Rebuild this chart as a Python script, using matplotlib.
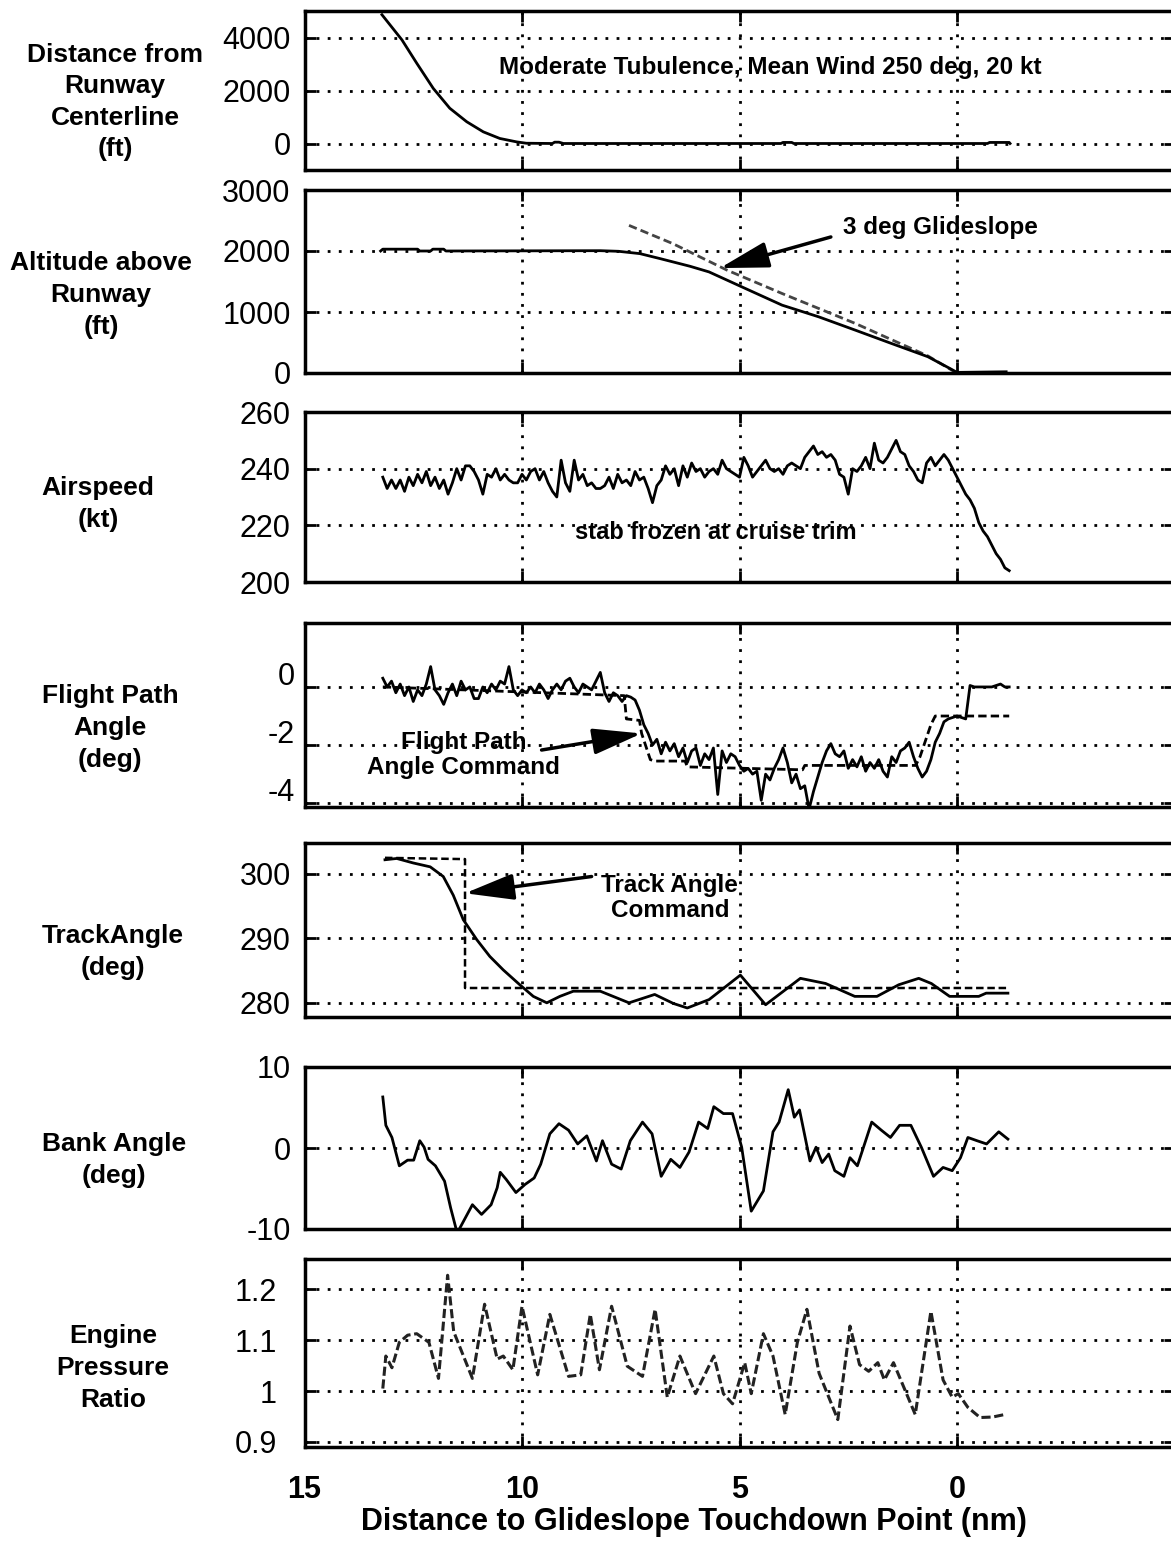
import matplotlib
matplotlib.use("Agg")
import matplotlib.pyplot as plt
import numpy as np
from matplotlib.transforms import ScaledTranslation

plt.rcParams['font.family'] = ['Liberation Sans', 'DejaVu Sans']

# ---- data (distance to glideslope touchdown point, nm) ----
dist_nm = [13.22, 12.76, 12.42, 12.04, 11.66, 11.27, 10.89, 10.51, 10.12, 9.9,
           9.3, 9.25, 9.15, 9.05, 4.05, 4.0, 3.8, 3.75, -0.7, -0.75, -1.2, -1.22]
dist_ft = [4860, 3910, 3030, 2080, 1330, 820, 440, 190, 60, 10,
           0, 50, 50, 0, 0, 40, 40, 0, 0, 40, 40, 0]

alt_nm = [13.25, 13.2, 12.9, 12.4, 12.35, 12.1, 12.05, 11.8, 11.75, 8.2, 7.78, 7.29,
          6.83, 6.14, 5.70, 5.03, 4.02, 3.18, 2.34, 1.51, 0.67, 0.17, 0.0, -1.13]
alt_ft = [2000, 2030, 2030, 2030, 2000, 2000, 2030, 2030, 2000, 2005, 1995, 1957,
          1876, 1750, 1657, 1439, 1112, 921, 703, 485, 267, 77, 10, 20]

gs_nm = [7.54, 6.53, 5.28, 4.02, 2.34, 0.67, 0.08]
gs_ft = [2420, 2120, 1684, 1303, 813, 280, 30]

spd_nm = np.round(np.arange(13.2, -1.25, -0.1), 1)
spd_kt = [237, 233, 236, 233, 236, 232, 237, 234, 238, 235, 239, 234, 237, 233, 236,
          231, 235, 240, 236, 241, 241, 239, 236, 231, 238, 237, 240, 236, 238, 236,
          235, 235, 238, 236, 239, 240, 236, 239, 235, 232, 230, 243, 235, 232, 243,
          236, 238, 234, 235, 233, 233, 234, 237, 233, 238, 235, 236, 234, 239, 236,
          237, 233, 228, 234, 236, 241, 238, 240, 234, 241, 237, 242, 239, 240, 237,
          239, 240, 238, 243, 240, 239, 238, 237, 244, 241, 237, 239, 241, 243, 240,
          239, 240, 238, 241, 242, 241, 240, 244, 246, 248, 245, 246, 244, 245, 243,
          238, 237, 231, 240, 239, 241, 244, 240, 249, 243, 242, 244, 247, 250, 246,
          245, 241, 239, 236, 235, 242, 244, 241, 243, 245, 243, 240, 237,
          234, 231, 229, 226, 221, 218, 216, 213, 210, 208, 205, 204]

fpa_nm = np.round(np.arange(13.2, -1.25, -0.1), 1)
fpa_deg = [0.3, 0.0, 0.2, -0.2, 0.1, -0.3, 0.0, -0.5, -0.1, -0.3, 0.1, 0.7, -0.1, -0.3, -0.6,
           -0.2, 0.1, -0.3, 0.2, -0.1, 0.0, -0.4, -0.4, 0.0, -0.2, 0.1, -0.1, 0.2, 0.1, 0.7,
           -0.1, -0.3, -0.1, -0.2, 0.0, -0.2, 0.1, -0.1, -0.4, -0.1, 0.1, -0.1, 0.2, 0.3, 0.0,
           -0.2, 0.1, 0.0, -0.1, 0.2, 0.5, -0.2, -0.5, -0.2, -0.3, -0.5, -0.3, -0.35, -0.45, -0.8,
           -1.3, -1.6, -2.0, -1.8, -2.3, -1.9, -2.2, -1.95, -2.4, -2.1, -2.6, -2.2, -2.1, -2.7, -2.3,
           -2.5, -2.1, -3.7, -2.2, -2.6, -2.3, -2.4, -2.7, -2.9, -2.8, -3.0, -2.9, -3.9, -3.0, -3.2,
           -2.8, -2.5, -2.1, -2.6, -3.3, -3.0, -3.5, -3.4, -4.2, -3.6, -3.1, -2.6, -2.2, -1.95, -2.3,
           -2.4, -2.2, -2.8, -2.5, -2.75, -2.4, -2.9, -2.6, -2.8, -2.5, -2.9, -3.1, -2.4, -2.6, -2.2,
           -2.1, -1.9, -2.4, -2.8, -3.1, -2.9, -2.5, -1.9, -1.6, -1.2, -1.1, -1.05, -1.0,
           -1.05, -1.1, 0.05, 0.0, 0.0, 0.0, 0.0, 0.0, 0.05, 0.1, 0.0, 0.0]

fpa_cmd_nm = [13.2, 7.65, 7.6, 7.3, 7.25, 7.05, 6.95, 6.25, 6.2, 3.55, 3.5, 0.95, 0.85, 0.6, 0.5, -1.2]
fpa_cmd_deg = [0.0, -0.3, -1.1, -1.15, -1.6, -2.5, -2.55, -2.55, -2.75, -2.85, -2.7, -2.7, -2.4,
               -1.3, -1.0, -1.0]

trk_nm = [13.15, 12.88, 12.5, 12.11, 11.81, 11.58, 11.35, 11.04, 10.74, 10.43, 10.05, 9.74,
          9.43, 9.13, 8.82, 8.2, 7.54, 6.95, 6.52, 6.2, 5.7, 4.98, 4.4, 3.6, 3.02, 2.35,
          1.84, 1.34, 0.88, 0.59, 0.17, -0.5, -0.67, -1.17]
trk_deg = [302.2, 302.4, 301.7, 301.1, 299.6, 296.7, 292.9, 289.8, 287.2, 285.1, 282.8, 281.0,
           280.0, 281.0, 281.8, 281.8, 280.0, 281.3, 279.9, 279.2, 280.5, 284.3, 279.7, 283.8,
           283.0, 281.0, 281.0, 282.8, 283.8, 283.0, 281.0, 281.0, 281.5, 281.5]

trk_cmd_nm = [13.15, 11.31, 11.31, -1.17]
trk_cmd_deg = [302.5, 302.3, 282.3, 282.3]

bank_nm = [13.2, 13.13, 12.99, 12.82, 12.63, 12.49, 12.35, 12.25, 12.16, 11.99, 11.78, 11.64,
           11.49, 11.35, 11.14, 10.93, 10.71, 10.57, 10.5, 10.36, 10.14, 9.93, 9.72, 9.57,
           9.36, 9.15, 8.93, 8.72, 8.51, 8.29, 8.15, 7.94, 7.72, 7.51, 7.23, 7.01, 6.8, 6.58,
           6.37, 6.16, 5.94, 5.73, 5.59, 5.37, 5.16, 4.95, 4.73, 4.45, 4.23, 4.09, 3.88, 3.74,
           3.62, 3.38, 3.24, 3.1, 2.95, 2.81, 2.6, 2.46, 2.29, 2.1, 1.96, 1.74, 1.53, 1.32,
           1.06, 0.82, 0.54, 0.32, 0.11, -0.08, -0.25, -0.46, -0.68, -0.96, -1.17]
bank_deg = [6.3, 2.8, 1.3, -2.2, -1.5, -1.5, 0.9, 0.1, -1.4, -2.2, -4.1, -7.4,
            -10.5, -9.1, -7.0, -8.2, -7.0, -4.9, -3.0, -3.9, -5.5, -4.5, -3.7, -2.0,
            1.75, 3.0, 2.2, 0.5, 1.5, -1.6, 0.9, -2.0, -2.6, 0.9, 3.2, 1.75, -3.5, -1.4,
            -2.4, -0.5, 3.2, 2.4, 5.1, 4.25, 4.25, 0.1, -7.8, -5.3, 2.0, 3.2, 7.2, 3.8,
            4.7, -1.6, 0.1, -1.8, -0.75, -2.8, -3.5, -1.2, -2.2, 0.9, 3.2, 2.2, 1.3, 2.8,
            2.8, 0.1, -3.5, -2.4, -2.8, -1.2, 1.3, 0.9, 0.5, 2.0, 1.1]

epr_nm = [13.2, 13.13, 12.99, 12.82, 12.63, 12.42, 12.14, 11.92, 11.71, 11.57, 11.14, 10.86,
          10.57, 10.43, 10.21, 10.0, 9.64, 9.36, 8.93, 8.65, 8.43, 8.22, 7.94, 7.58, 7.23,
          6.94, 6.66, 6.37, 6.01, 5.59, 5.37, 5.16, 4.88, 4.73, 4.45, 4.23, 3.95, 3.67, 3.45,
          3.17, 2.74, 2.46, 2.24, 2.03, 1.82, 1.67, 1.46, 0.96, 0.6, 0.32, 0.11, -0.03,
          -0.25, -0.53, -0.82, -1.1]
epr_val = [1.005, 1.069, 1.046, 1.096, 1.110, 1.113, 1.096, 1.025, 1.228, 1.117, 1.025, 1.171,
           1.063, 1.069, 1.042, 1.167, 1.032, 1.151, 1.029, 1.032, 1.151, 1.042, 1.167, 1.049,
           1.029, 1.161, 0.988, 1.069, 0.995, 1.069, 0.995, 0.975, 1.056, 0.995, 1.113, 1.069,
           0.954, 1.096, 1.161, 1.035, 0.944, 1.128, 1.052, 1.039, 1.056, 1.022, 1.056, 0.954,
           1.157, 1.022, 0.988, 0.995, 0.968, 0.948, 0.949, 0.954]

W, H = 1171, 1541
fig = plt.figure(figsize=(W / 100, H / 100), dpi=100)

# panel extents in pixels: (top, bottom, ylim, yticks)
panels = [
    (11, 170, (-1000, 5000), [0, 2000, 4000]),
    (190, 373, (0, 3000), [0, 1000, 2000, 3000]),
    (412, 582, (200, 260), [200, 220, 240, 260]),
    (623, 807, (-4.13, 2.2), [-4, -2, 0]),
    (843, 1017, (277.8, 304.8), [280, 290, 300]),
    (1067, 1229, (-10, 10), [-10, 0, 10]),
    (1259, 1447, (0.89, 1.26), [0.9, 1, 1.1, 1.2]),
]
labels = ["Distance from\nRunway\nCenterline\n(ft)",
          "Altitude above\nRunway\n(ft)",
          "Airspeed\n(kt)",
          "Flight Path\nAngle\n(deg)",
          "TrackAngle\n(deg)",
          "Bank Angle\n(deg)",
          "Engine\nPressure\nRatio"]
label_y = [102, 295, 504, 728, 952, 1160, 1368]
label_x = [115, 101, 98, 110, 113, 114, 113]

arrow = dict(arrowstyle='-|>,head_length=1.5,head_width=0.4',
             mutation_scale=20, lw=2.5, color='black', shrinkA=0, shrinkB=0)

x0, x1 = 304.5, 1174.5
axes = []
for (top, bot, ylim, yt), lab, lx, ly in zip(panels, labels, label_x, label_y):
    ax = fig.add_axes([x0 / W, 1 - bot / H, (x1 - x0) / W, (bot - top) / H])
    ax.set_xlim(15, -5)
    ax.set_ylim(*ylim)
    ax.set_xticks([15, 10, 5, 0])
    ax.set_yticks(yt)
    ax.yaxis.set_major_formatter(matplotlib.ticker.FuncFormatter(lambda v, p: '%g' % v))
    ax.grid(True, linestyle=(0, (1, 3)), linewidth=2, color='black')
    ax.tick_params(direction='in', length=8, width=2, top=True, right=True,
                   labelsize=22, pad=10, labelbottom=False)
    for s in ax.spines.values():
        s.set_linewidth(2.5)
    fig.text(lx / W, 1 - ly / H, lab, ha='center', va='center', fontsize=19,
             fontweight='bold', linespacing=1.4)
    axes.append(ax)

ax1, ax2, ax3, ax4, ax5, ax6, ax7 = axes

ax1.plot(dist_nm, dist_ft, color='black', lw=2)
ax1.text(4.3, 2850, "Moderate Tubulence, Mean Wind 250 deg, 20 kt", ha='center',
         va='center', fontsize=17.5, fontweight='bold')

ax2.plot(gs_nm, gs_ft, color='#444444', lw=2, linestyle=(0, (3, 1.5)))
ax2.plot(alt_nm, alt_ft, color='black', lw=2)
ax2.annotate("", xy=(5.45, 1720), xytext=(2.9, 2230), arrowprops=arrow)
ax2.text(0.37, 2390, "3 deg Glideslope", ha='center', va='center', fontsize=17.5,
         fontweight='bold')

ax3.plot(spd_nm, spd_kt, color='black', lw=2)
ax3.text(5.54, 217.6, "stab frozen at cruise trim", ha='center', va='center',
         fontsize=17, fontweight='bold')

ax4.plot(fpa_cmd_nm, fpa_cmd_deg, color='black', lw=2, linestyle=(0, (3, 1.5)))
ax4.plot(fpa_nm, fpa_deg, color='black', lw=2)
ax4.annotate("", xy=(7.25, -1.6), xytext=(9.55, -2.17), arrowprops=arrow)
ax4.text(11.35, -2.34, "Flight Path\nAngle Command", ha='center', va='center',
         fontsize=17.5, fontweight='bold', linespacing=1.1)
# tick labels of this panel sit a little above their grid lines
ax4.tick_params(labelleft=False)
lift = ax4.get_yaxis_transform() + ScaledTranslation(-0.1, 0.1, fig.dpi_scale_trans)
for v in [0, -2, -4]:
    ax4.text(0, v, '%g' % v, transform=lift, ha='right', va='center', fontsize=22)

ax5.plot(trk_cmd_nm, trk_cmd_deg, color='black', lw=1.8, linestyle=(0, (3, 1.5)))
ax5.plot(trk_nm, trk_deg, color='black', lw=2)
ax5.annotate("", xy=(11.31, 297.0), xytext=(8.4, 299.6), arrowprops=arrow)
ax5.text(6.6, 296.3, "Track Angle\nCommand", ha='center', va='center', fontsize=17.5,
         fontweight='bold', linespacing=1.1)

ax6.plot(bank_nm, bank_deg, color='black', lw=2)

ax7.plot(epr_nm, epr_val, color='#222222', lw=2.2, linestyle=(0, (3, 1.2)))

ax7.tick_params(labelbottom=True, labelsize=22, pad=20)
for t in ax7.get_xticklabels():
    t.set_fontweight('bold')
ax7.xaxis.set_major_formatter(matplotlib.ticker.FuncFormatter(lambda v, p: '%g' % v))
fig.text(694 / W, 1 - 1522 / H, "Distance to Glideslope Touchdown Point (nm)",
         ha='center', va='center', fontsize=22, fontweight='bold')

fig.savefig("out.png", dpi=100)
